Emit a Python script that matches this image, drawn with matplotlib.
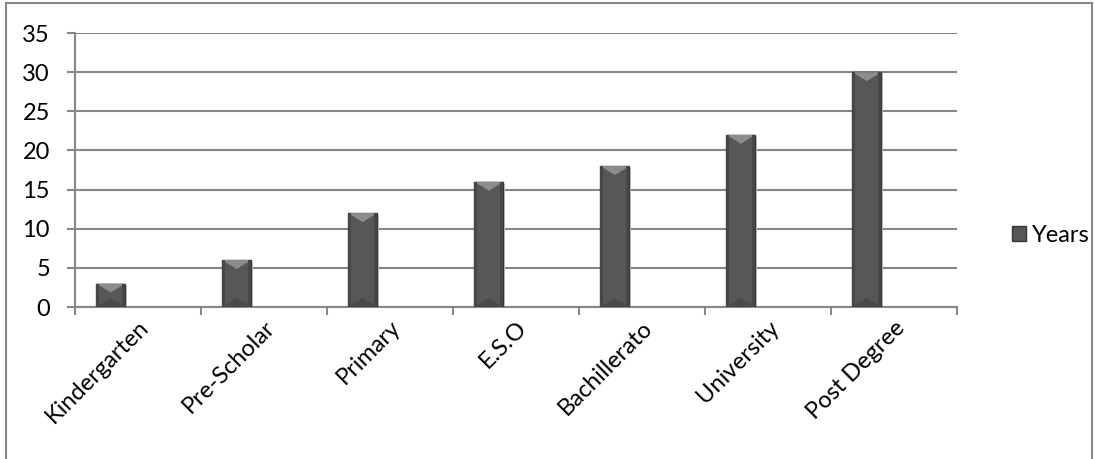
"""Years of schooling by education stage, drawn as bevelled columns."""

import matplotlib.pyplot as plt
from matplotlib.patches import Polygon, Rectangle
import numpy as np

plt.rcParams["font.family"] = ["Lato", "DejaVu Sans"]

stages = [
    "Kindergarten",
    "Pre-Scholar",
    "Primary",
    "E.S.O",
    "Bachillerato",
    "University",
    "Post Degree",
]
years = [3, 6, 12, 16, 18, 22, 30]
series_name = "Years"
y_ticks = [0, 5, 10, 15, 20, 25, 30, 35]

GRID = "#878787"
BAR_FACE = "#575757"
BAR_EDGE = "#383838"
FONT_SIZE = 17

fig = plt.figure(figsize=(10.94, 4.59), dpi=100)
ax = fig.add_axes([75 / 1094, 1 - 307 / 459, 882 / 1094, 274 / 459])

# outer chart frame
fig.patches.append(Rectangle((6 / 1094, -0.01), 1087 / 1094 - 0.001, 1 - 3 / 459 + 0.01,
                             transform=fig.transFigure, fill=False,
                             edgecolor=GRID, linewidth=1.5))

x = np.arange(len(stages))
offset = -0.216
width = 0.23

ax.set_xlim(-0.5, len(stages) - 0.5)
ax.set_ylim(0, 35)

# soft drop shadow behind each column
px_x = (len(stages)) / 882
px_y = 35 / 274
ax.bar(x + offset + 2 * px_x, years, width, bottom=-2 * px_y,
       color="#d0d0d0", zorder=2, linewidth=0)

bars = ax.bar(x + offset, years, width, color=BAR_FACE, edgecolor=BAR_EDGE,
              linewidth=1.0, zorder=3, label=series_name)

# bevel highlights on top and darker base facet
for b in bars:
    x0 = b.get_x()
    w = b.get_width()
    h = b.get_height()
    d = 9 * px_y
    s = 3 * px_x
    ax.add_patch(Polygon([(x0, h), (x0 + w, h), (x0 + w / 2, h - d)],
                         closed=True, facecolor="#8c8c8c", edgecolor="none", zorder=4))
    ax.add_patch(Polygon([(x0, 0), (x0 + w, 0), (x0 + w / 2, d)],
                         closed=True, facecolor="#4a4a4a", edgecolor="none", zorder=4))
    ax.add_patch(Rectangle((x0, 0), s, h, facecolor="#474747", edgecolor="none", zorder=4))
    ax.add_patch(Rectangle((x0 + w - s, 0), s, h, facecolor="#474747", edgecolor="none", zorder=4))

ax.set_yticks(y_ticks)
ax.set_yticklabels([str(v) for v in y_ticks])
ax.yaxis.grid(True, color=GRID, linewidth=1.5, zorder=0)
ax.set_axisbelow(True)

ax.set_xticks(x)
ax.set_xticklabels(stages, rotation=45, ha="right", va="top", rotation_mode="anchor")
ax.set_xticks(np.arange(-0.5, len(stages)), minor=True)
ax.tick_params(axis="x", which="major", length=0, pad=7)
ax.tick_params(axis="x", which="minor", length=6, width=1.5, color=GRID)
ax.tick_params(axis="y", length=6, width=1.5, color=GRID, pad=12)
ax.tick_params(labelsize=FONT_SIZE, labelcolor="black")

for side in ("top", "right"):
    ax.spines[side].set_visible(False)
for side in ("left", "bottom"):
    ax.spines[side].set_color(GRID)
    ax.spines[side].set_linewidth(1.5)

handles, labels = ax.get_legend_handles_labels()
fig.legend(handles, labels, loc="center left", bbox_to_anchor=(1012 / 1094, 1 - 235 / 459),
           frameon=False, fontsize=FONT_SIZE, handlelength=0.6, handleheight=0.6,
           handletextpad=0.25, borderpad=0, borderaxespad=0)

fig.savefig("out.png", dpi=100)
